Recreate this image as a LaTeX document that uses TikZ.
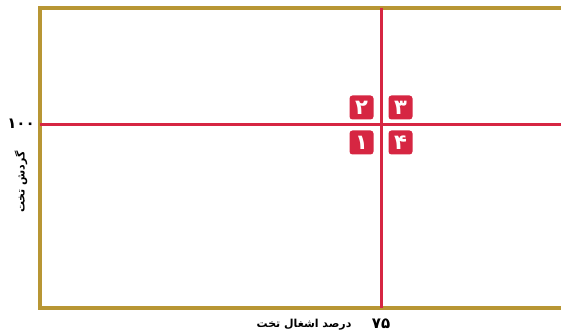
\documentclass[tikz,border=0pt]{standalone}
\usepackage{fontspec}
\newfontfamily\arabicfont[Script=Arabic, BoldFont={DejaVu Sans Bold}]{DejaVu Sans}
\TeXXeTstate=1
\definecolor{framegold}{RGB}{184,150,52}
\definecolor{crossred}{RGB}{214,38,66}
\tikzset{
  frameline/.style={draw=framegold, line width=3.5pt},
  crossline/.style={draw=crossred, line width=3pt},
  badge/.style={fill=crossred, rounded corners=3pt, minimum width=24pt, minimum height=24pt, inner sep=0, outer sep=0, text=white, font=\arabicfont\bfseries\fontsize{21}{21}\selectfont},
  axislabel/.style={inner sep=0, outer sep=0, font=\arabicfont\bfseries\fontsize{11}{12}\selectfont},
  axisnum/.style={inner sep=0, outer sep=0, font=\arabicfont\bfseries\fontsize{15}{15}\selectfont}
}
\begin{document}
\begin{tikzpicture}[x=1pt, y=1pt]
        \useasboundingbox (0,0) rectangle (561,336);
        \coordinate (tl) at (40,328);
        \coordinate (bl) at (40,28);
        \coordinate (tr) at (562,328);
        \coordinate (br) at (562,28);
        \coordinate (cross) at (381,211);
        \draw[frameline] (tr) -- (tl) -- (bl) -- (br);
        \draw[crossline] (cross -| bl) -- (cross -| br);
        \draw[crossline] (cross |- tl) -- (cross |- bl);
        \draw (cross) ++(-19.5,17.5) node[badge] (q2) {۲};
        \draw (cross) ++(19.5,17.5) node[badge] (q3) {۳};
        \draw (cross) ++(-19.5,-17.5) node[badge] (q1) {۱};
        \draw (cross) ++(19.5,-17.5) node[badge] (q4) {۴};
        \draw (cross -| bl) ++(-19,1) node[axisnum] (ymax) {۱۰۰};
        \draw (cross |- bl) ++(0,-16) node[axisnum] (xmax) {۷۵};
        \draw (304,11) node[axislabel] (xlabel) {\beginR درصد اشغال تخت\endR};
        \draw (21,154) node[axislabel, rotate=90] (ylabel) {\beginR گردش تخت\endR};
      \end{tikzpicture}
\end{document}
